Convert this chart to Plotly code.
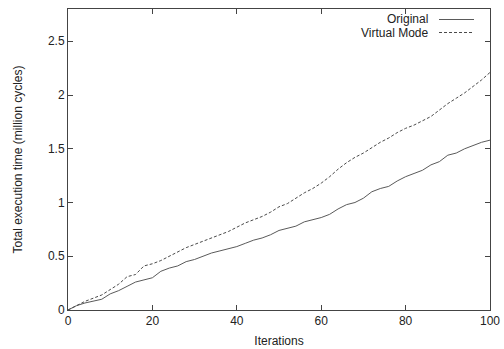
import plotly.graph_objects as go

iterations = list(range(0, 101, 2))
original = [0, 0.04, 0.065, 0.08, 0.10, 0.15, 0.18, 0.22, 0.26, 0.28, 0.30,
            0.36, 0.39, 0.41, 0.45, 0.47, 0.50, 0.53, 0.55, 0.57, 0.59,
            0.62, 0.65, 0.67, 0.70, 0.74, 0.76, 0.78, 0.82, 0.84, 0.86,
            0.89, 0.94, 0.98, 1.00, 1.04, 1.10, 1.13, 1.15, 1.20, 1.24,
            1.27, 1.30, 1.35, 1.38, 1.44, 1.46, 1.50, 1.53, 1.56, 1.58]
virtual_mode = [0, 0.04, 0.08, 0.11, 0.14, 0.19, 0.24, 0.31, 0.33, 0.41, 0.43,
                0.46, 0.50, 0.54, 0.58, 0.61, 0.64, 0.67, 0.70, 0.73, 0.77,
                0.81, 0.84, 0.87, 0.91, 0.96, 0.99, 1.04, 1.09, 1.13, 1.18,
                1.24, 1.31, 1.37, 1.42, 1.46, 1.51, 1.56, 1.60, 1.65, 1.69,
                1.72, 1.76, 1.80, 1.86, 1.92, 1.97, 2.02, 2.08, 2.14, 2.21]
series_names = ["Original", "Virtual Mode"]
x_ticks = [0, 20, 40, 60, 80, 100]
y_ticks = [0, 0.5, 1, 1.5, 2, 2.5]
y_tick_labels = ["0", "0.5", "1", "1.5", "2", "2.5"]

FONT = "Liberation Sans, Arial, Helvetica, sans-serif"
fig = go.Figure()
fig.add_trace(go.Scatter(x=iterations, y=original, mode="lines", name=series_names[0],
                         line=dict(color="#5a5a5a", width=1, dash="solid"), showlegend=False))
fig.add_trace(go.Scatter(x=iterations, y=virtual_mode, mode="lines", name=series_names[1],
                         line=dict(color="#4a4a4a", width=1, dash="3px,2px"), showlegend=False))

axis_common = dict(showgrid=False, zeroline=False, showline=True, linecolor="#444444",
                   linewidth=1, mirror="allticks", ticks="inside", ticklen=5,
                   tickcolor="#444444", automargin=False,
                   tickfont=dict(size=12, color="#222222", family=FONT))
fig.update_xaxes(range=[0, 100], tickvals=x_ticks, title=dict(text="Iterations", standoff=9,
                 font=dict(size=12, color="#222222", family=FONT)), **axis_common)
fig.update_yaxes(range=[0, 2.8], tickvals=y_ticks, ticktext=y_tick_labels,
                 title=dict(text="Total execution time (million cycles)", standoff=22,
                            font=dict(size=12, color="#222222", family=FONT)), **axis_common)

# gnuplot-style legend: text right-aligned, sample line to the right
legend_rows = [(series_names[0], 19.5, "solid", "#5a5a5a"),
               (series_names[1], 32.5, "3px,2px", "#4a4a4a")]
W, H = 504, 349
for name, ypx, dash, col in legend_rows:
    yp = 1 - ypx / H
    fig.add_annotation(xref="paper", yref="paper", x=(430 - 68) / (490 - 68),
                       y=(yp * H - 39) / (H - 39 - 9), text=name, showarrow=False,
                       xanchor="right", yanchor="middle",
                       font=dict(size=12, color="#222222", family=FONT))
    fig.add_shape(type="line", xref="paper", yref="paper",
                  x0=(439 - 68) / (490 - 68), x1=(474 - 68) / (490 - 68),
                  y0=(yp * H - 39) / (H - 39 - 9), y1=(yp * H - 39) / (H - 39 - 9),
                  line=dict(color=col, width=1, dash=dash))

fig.update_layout(width=W, height=H, margin=dict(l=68, r=14, t=9, b=39),
                  plot_bgcolor="white", paper_bgcolor="white",
                  font=dict(family=FONT, color="#222222"))
fig.write_html("out.html")
